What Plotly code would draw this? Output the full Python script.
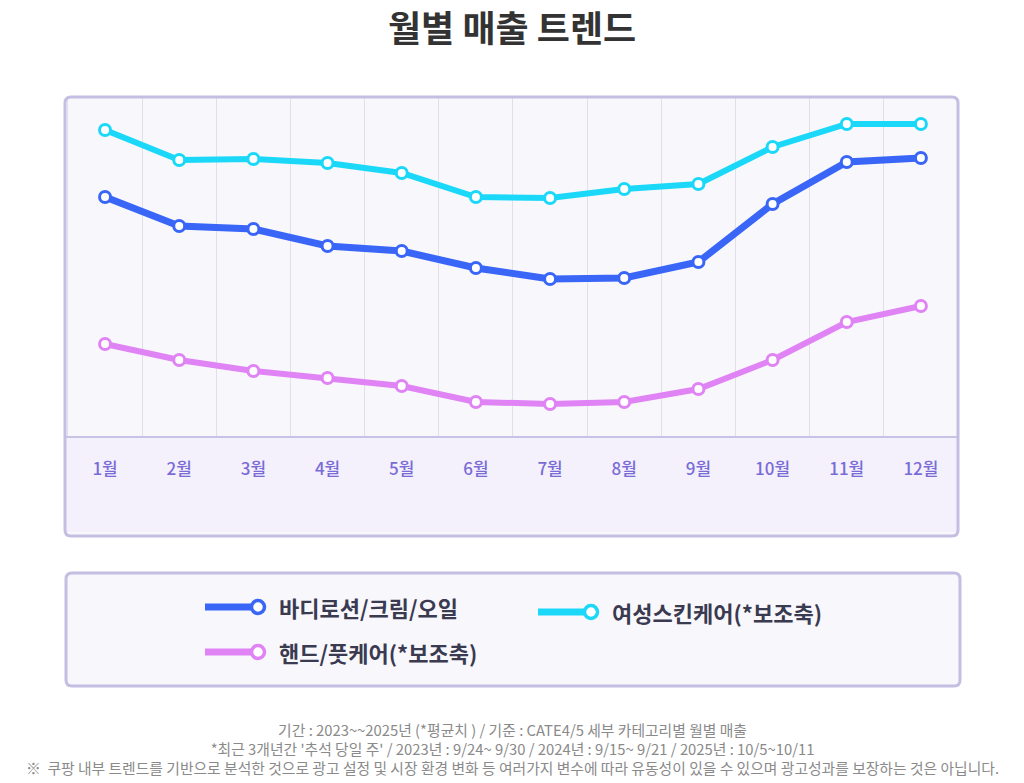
import plotly.graph_objects as go

W, H = 1024, 783

months = ["1월", "2월", "3월", "4월", "5월", "6월", "7월", "8월", "9월", "10월", "11월", "12월"]
body = [239, 210, 207, 190, 185, 168, 157, 158, 174, 232, 274, 278]
skin = [306, 276, 277, 273, 263, 239, 238, 247, 252, 289, 312, 312]
hand = [92, 76, 65, 58, 50, 34, 32, 34, 47, 76, 114, 130]

names = ["바디로션/크림/오일", "여성스킨케어(*보조축)", "핸드/풋케어(*보조축)"]
colors = ["#3a66f8", "#1bd8f9", "#e083f5"]

FONT = "Noto Sans CJK KR"


def px(x):
    return x / W


def py(y):
    return 1 - y / H


def rounded_rect(x0, y0, x1, y1, r):
    # pixel box -> paper path with rounded corners
    pts = [
        f"M{px(x0 + r)},{py(y0)}",
        f"L{px(x1 - r)},{py(y0)}",
        f"Q{px(x1)},{py(y0)} {px(x1)},{py(y0 + r)}",
        f"L{px(x1)},{py(y1 - r)}",
        f"Q{px(x1)},{py(y1)} {px(x1 - r)},{py(y1)}",
        f"L{px(x0 + r)},{py(y1)}",
        f"Q{px(x0)},{py(y1)} {px(x0)},{py(y1 - r)}",
        f"L{px(x0)},{py(y0 + r)}",
        f"Q{px(x0)},{py(y0)} {px(x0 + r)},{py(y0)}",
        "Z",
    ]
    return " ".join(pts)


fig = go.Figure()

series = [body, skin, hand]
widths = [7, 6, 6]
for vals, name, col, w in zip(series, names, colors, widths):
    fig.add_trace(go.Scatter(
        x=months, y=vals, name=name, mode="lines+markers",
        line=dict(color=col, width=w),
        marker=dict(size=11, color="white", line=dict(color=col, width=3)),
        showlegend=False,
    ))

shapes = []
# chart box
shapes.append(dict(type="path", xref="paper", yref="paper", layer="below",
                   path=rounded_rect(65, 97, 958, 536, 6),
                   fillcolor="#f8f8fc", line=dict(width=0)))
shapes.append(dict(type="rect", xref="paper", yref="paper", layer="below",
                   x0=px(66), x1=px(957), y0=py(532), y1=py(436),
                   fillcolor="#f4f1fd", line=dict(width=0)))
shapes.append(dict(type="path", xref="paper", yref="paper", layer="above",
                   path=rounded_rect(65, 97, 958, 536, 6),
                   fillcolor="rgba(0,0,0,0)", line=dict(color="#c4bee2", width=3)))
# legend box
shapes.append(dict(type="path", xref="paper", yref="paper", layer="below",
                   path=rounded_rect(66, 573, 960, 686, 6),
                   fillcolor="#f7f7fc", line=dict(color="#c4bee2", width=3)))

annotations = [
    dict(text="<b>월별 매출 트렌드</b>", x=0.5, y=py(26), xref="paper", yref="paper",
         showarrow=False, font=dict(family=FONT, size=36, color="#333333"),
         xanchor="center", yanchor="middle"),
]

# legend items
legend_pos = [(205, 607), (538, 612), (205, 652)]
for (lx, ly), name, col in zip(legend_pos, names, colors):
    shapes.append(dict(type="line", xref="paper", yref="paper",
                       x0=px(lx), x1=px(lx + 53), y0=py(ly), y1=py(ly),
                       line=dict(color=col, width=7)))
    shapes.append(dict(type="circle", xref="paper", yref="paper",
                       x0=px(lx + 53 - 6.5), x1=px(lx + 53 + 6.5),
                       y0=py(ly + 6.5), y1=py(ly - 6.5),
                       fillcolor="white", line=dict(color=col, width=3.5)))
    annotations.append(dict(text=name, x=px(lx + 72), y=py(ly), xref="paper", yref="paper",
                            showarrow=False, xanchor="left", yanchor="middle",
                            font=dict(family=FONT, size=22, color="#3a3a50", weight=600)))

notes = [
    "기간 : 2023~~2025년 (*평균치 ) / 기준 : CATE4/5 세부 카테고리별 월별 매출",
    "*최근 3개년간 '추석 당일 주' / 2023년 : 9/24~ 9/30 / 2024년 : 9/15~ 9/21 / 2025년 : 10/5~10/11",
    "※  쿠팡 내부 트렌드를 기반으로 분석한 것으로 광고 설정 및 시장 환경 변화 등 여러가지 변수에 따라 유동성이 있을 수 있으며 광고성과를 보장하는 것은 아닙니다.",
]
annotations.append(dict(text="<br>".join(notes), x=0.5, y=py(748),
                        xref="paper", yref="paper", showarrow=False,
                        xanchor="center", yanchor="middle", align="center",
                        font=dict(family=FONT, size=14.8, color="#8a8a8a")))

fig.update_layout(
    width=W, height=H,
    margin=dict(l=0, r=0, t=0, b=0),
    paper_bgcolor="white",
    plot_bgcolor="rgba(0,0,0,0)",
    shapes=shapes,
    annotations=annotations,
    font=dict(family=FONT),
    xaxis=dict(
        domain=[px(65), px(958)], type="category", range=[-0.54, 11.5],
        tickson="boundaries", showgrid=True, gridcolor="#e1dfec", gridwidth=1,
        showline=True, linecolor="#c8c2e4", linewidth=2,
        ticks="", ticklabelstandoff=17, zeroline=False,
        tickfont=dict(family=FONT, size=17, color="#7a6cd6", weight=500),
    ),
    yaxis=dict(
        domain=[py(436), py(98)], range=[0, 338],
        showgrid=False, zeroline=False, showticklabels=False, showline=False,
    ),
)

fig.write_html("out.html", config={"displayModeBar": False},
               post_script="document.body.style.margin='0';")
